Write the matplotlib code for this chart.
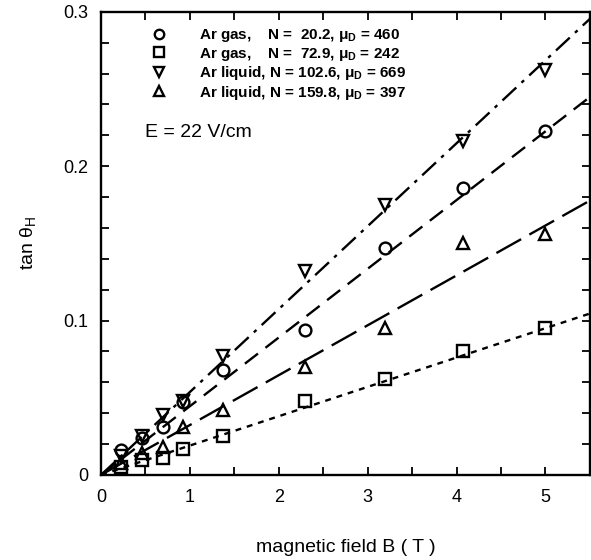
import numpy as np
import matplotlib.pyplot as plt
from matplotlib.ticker import MultipleLocator

plt.rcParams['font.family'] = ['Liberation Sans', 'DejaVu Sans']
plt.rcParams['mathtext.fontset'] = 'custom'
plt.rcParams['mathtext.rm'] = 'Liberation Sans'
plt.rcParams['mathtext.bf'] = 'Liberation Sans:bold'

# magnetic field values (T)
field = [0.23, 0.46, 0.70, 0.92, 1.37, 2.29, 3.19, 4.07, 5.0]

# tan(theta_H) for each sample
gas_20 = [0.016, 0.024, 0.031, 0.047, 0.068, 0.094, 0.147, 0.186, 0.223]
gas_73 = [0.005, 0.0095, 0.011, 0.0170, 0.025, 0.048, 0.062, 0.080, 0.095]
liq_103 = [0.012, 0.025, 0.039, 0.048, 0.077, 0.132, 0.175, 0.216, 0.262]
liq_160 = [0.008, 0.014, 0.018, 0.031, 0.042, 0.070, 0.095, 0.150, 0.156]

labels = [r"Ar gas,    N =  20.2, $\mathbf{\mu_D}$ = 460",
          r"Ar gas,    N =  72.9, $\mathbf{\mu_D}$ = 242",
          r"Ar liquid, N = 102.6, $\mathbf{\mu_D}$ = 669",
          r"Ar liquid, N = 159.8, $\mathbf{\mu_D}$ = 397"]

# slopes of the straight fit lines through the origin
fit_slopes = [0.0445, 0.0190, 0.0537, 0.0323]

series = [gas_20, gas_73, liq_103, liq_160]
markers = ['o', 's', 'v', '^']
dashes = [(7, 4), (2.5, 2.5), (8, 3, 1.5, 3), (12, 4)]

fig = plt.figure(figsize=(5.91, 5.6), dpi=100)
ax = fig.add_axes([0.171, 0.152, 0.827, 0.827])

bfit = np.array([0, 5.5])
for vals, mk, ds, k, lab in zip(series, markers, dashes, fit_slopes, labels):
    ax.plot(bfit, k * bfit, color='black', lw=1.7, dashes=ds)
    ax.plot(field, vals, linestyle='none', marker=mk, markersize=8.5,
            markerfacecolor='none', markeredgecolor='black', markeredgewidth=1.7,
            label=lab)

ax.set_xlim(0, 5.5)
ax.set_ylim(0, 0.3)
ax.xaxis.set_minor_locator(MultipleLocator(0.5))
ax.yaxis.set_minor_locator(MultipleLocator(0.02))
ax.set_xticks([0, 1, 2, 3, 4, 5])
ax.set_xticklabels(['0', '1', '2', '3', '4', '5'])
ax.set_yticks([0, 0.1, 0.2, 0.3])
ax.set_yticklabels(['0', '0.1', '0.2', '0.3'])
ax.tick_params(which='both', direction='in', top=True, right=True,
               length=6, width=1.3, labelsize=13)
ax.tick_params(axis='x', pad=10)
ax.tick_params(axis='y', pad=9)
for sp in ax.spines.values():
    sp.set_linewidth(1.7)

leg = ax.legend(loc='upper left', bbox_to_anchor=(0.09, 0.98), frameon=False,
                fontsize=11, handletextpad=2.1, labelspacing=0.1,
                borderaxespad=0, handlelength=1.0, markerscale=0.8)
for t in leg.get_texts():
    t.set_fontweight('bold')

ax.text(0.09, 0.73, "E = 22 V/cm", transform=ax.transAxes, fontsize=14)

ax.set_xlabel("magnetic field B ( T )", fontsize=14, labelpad=24)
ax.set_ylabel(r"tan $\mathrm{\theta}_\mathrm{H}$", fontsize=14, labelpad=18)

fig.savefig("out.png", dpi=100)
